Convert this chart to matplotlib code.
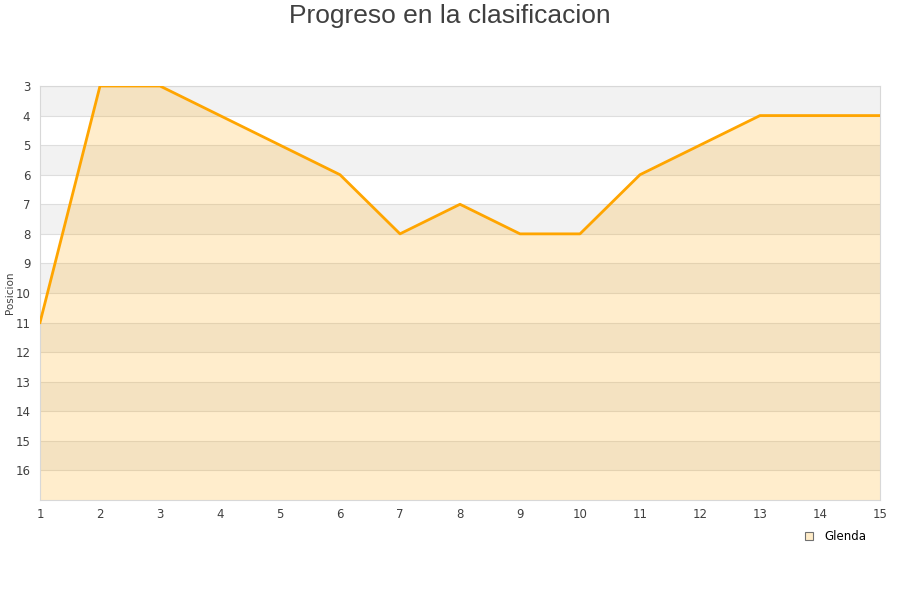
import matplotlib
matplotlib.use("Agg")
import matplotlib.pyplot as plt
from matplotlib.lines import Line2D

jornadas = list(range(1, 16))
posicion = [11, 3, 3, 4, 5, 6, 8, 7, 8, 8, 6, 5, 4, 4, 4]
yticks = list(range(3, 17))
title = "Progreso en la clasificacion"
ylabel = "Posicion"
serie = "Glenda"

fig = plt.figure(figsize=(9, 6), dpi=100)
ax = fig.add_axes([40/900, 1-500/600, 840/900, 414/600])

for y0 in range(3, 17, 2):
    ax.axhspan(y0, y0+1, color="#f2f2f2", lw=0, zorder=0)
for y in yticks:
    ax.axhline(y, color="#dedede", lw=0.8, zorder=1)

ax.fill_between(jornadas, posicion, 17, color="#ffa500", alpha=0.2, lw=0, zorder=2)
ax.plot(jornadas, posicion, color="#ffa500", lw=2, zorder=3)

ax.set_xlim(1, 15)
ax.set_ylim(17, 3)
ax.set_xticks(jornadas)
ax.set_yticks(yticks)
ax.tick_params(length=0, labelsize=8.5, colors="#404040", pad=6)
ax.tick_params(axis="y", pad=7)
for s in ax.spines.values():
    s.set_color("#d8d8d8")
    s.set_linewidth(0.8)

fig.text(10/900, 1-293/600, ylabel, rotation=90, ha="center", va="center",
         fontsize=7.5, color="#404040")
fig.text(0.5, 1-16/600, title, ha="center", va="center", fontsize=19,
         color="#404040", family=["Liberation Sans", "DejaVu Sans"])

h = Line2D([], [], marker="s", ls="none", markersize=6, markerfacecolor="#ffecc8",
           markeredgecolor="#707070", markeredgewidth=0.8)
fig.legend([h], [serie], loc="center", bbox_to_anchor=(832/900, 1-537/600),
           frameon=False, fontsize=8.5, handletextpad=0.3, borderaxespad=0)

fig.savefig("out.png", dpi=100)
